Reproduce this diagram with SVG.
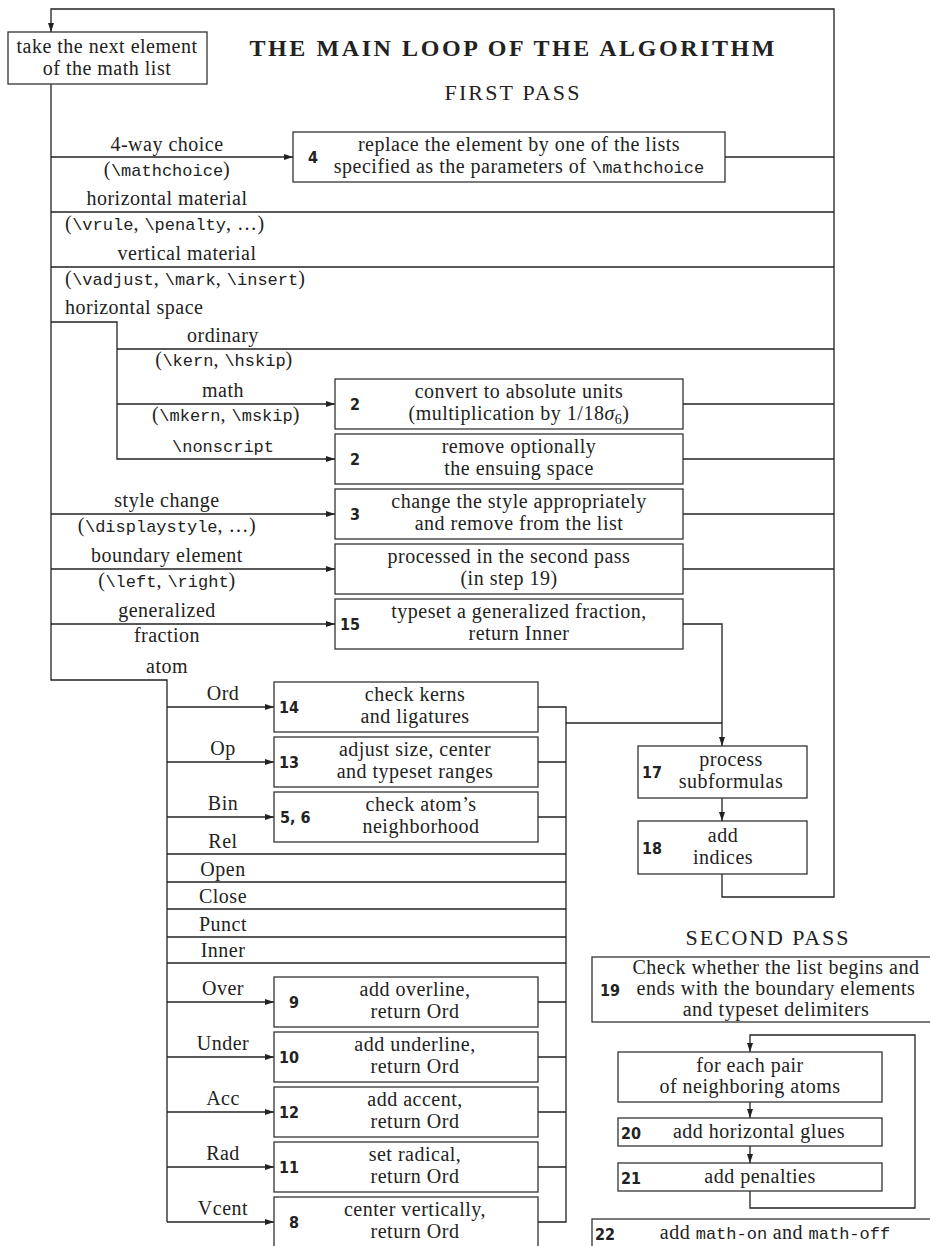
<svg xmlns="http://www.w3.org/2000/svg" width="930" height="1246" viewBox="0 0 930 1246">
<style>
  .bg{fill:#fff}
  .box{fill:#fff;stroke:#333;stroke-width:1.3}
  .ln{fill:none;stroke:#222;stroke-width:1.3}
  .t{font-family:"Liberation Serif","Times New Roman",serif;font-size:20px;fill:#222;letter-spacing:0.5px}
  .c{text-anchor:middle}
  .tt{font-family:"Liberation Mono","Courier New",monospace;font-size:17px;letter-spacing:0}
  .n{font-family:"DejaVu Sans Condensed","DejaVu Sans",sans-serif;font-stretch:condensed;font-weight:bold;font-size:16px;fill:#222}
  .e{text-anchor:end}
  .h1{font-family:"Liberation Serif","Times New Roman",serif;font-weight:bold;font-size:24px;fill:#222;text-anchor:middle}
  .h2{font-family:"Liberation Serif","Times New Roman",serif;font-size:22px;fill:#222;text-anchor:middle}
</style>
<defs>
  <marker id="arr" markerUnits="userSpaceOnUse" markerWidth="9" markerHeight="6" refX="9" refY="3" orient="auto">
    <path d="M0,0 L9,3 L0,6 z" fill="#222"/>
  </marker>
</defs>
<rect class="bg" x="0" y="0" width="930" height="1246"/>

<g id="headings">
  <text class="h1" x="512" y="56" textLength="525" lengthAdjust="spacing">THE MAIN LOOP OF THE ALGORITHM</text>
  <text class="h2" x="512" y="100" textLength="135" lengthAdjust="spacing">FIRST PASS</text>
  <text class="h2" x="767" y="945" textLength="163" lengthAdjust="spacing">SECOND PASS</text>
</g>

<g id="connectors">
  <path class="ln" d="M722,874 V897 H834 V9 H51 V32" marker-end="url(#arr)"/>
  <path class="ln" d="M51,84 V680 H167 V1222"/>
  <path class="ln" d="M51,157 H293" marker-end="url(#arr)"/>
  <path class="ln" d="M725,157 H834"/>
  <path class="ln" d="M51,212 H834"/>
  <path class="ln" d="M51,267 H834"/>
  <path class="ln" d="M51,322 H117 V459 H335" marker-end="url(#arr)"/>
  <path class="ln" d="M117,349 H834"/>
  <path class="ln" d="M117,404 H335" marker-end="url(#arr)"/>
  <path class="ln" d="M683,404 H834"/>
  <path class="ln" d="M683,459 H834"/>
  <path class="ln" d="M51,514 H335" marker-end="url(#arr)"/>
  <path class="ln" d="M683,514 H834"/>
  <path class="ln" d="M51,569 H335" marker-end="url(#arr)"/>
  <path class="ln" d="M683,569 H834"/>
  <path class="ln" d="M51,624 H335" marker-end="url(#arr)"/>
  <path class="ln" d="M683,624 H722 V746" marker-end="url(#arr)"/>
  <path class="ln" d="M566,723 H722"/>
  <path class="ln" d="M722,798 V821" marker-end="url(#arr)"/>
  <path class="ln" d="M167,707 H274" marker-end="url(#arr)"/>
  <path class="ln" d="M167,762 H274" marker-end="url(#arr)"/>
  <path class="ln" d="M167,817 H274" marker-end="url(#arr)"/>
  <path class="ln" d="M167,1002 H274" marker-end="url(#arr)"/>
  <path class="ln" d="M167,1057 H274" marker-end="url(#arr)"/>
  <path class="ln" d="M167,1112 H274" marker-end="url(#arr)"/>
  <path class="ln" d="M167,1167 H274" marker-end="url(#arr)"/>
  <path class="ln" d="M167,1222 H274" marker-end="url(#arr)"/>
  <path class="ln" d="M167,854 H566 M167,882 H566 M167,909 H566 M167,937 H566 M167,963 H566"/>
  <path class="ln" d="M538,707 H566 V1222 H538 M538,762 H566 M538,817 H566 M538,1002 H566 M538,1057 H566 M538,1112 H566 M538,1167 H566"/>
  <path class="ln" d="M750,1191 V1208 H915 V1035 H750 V1052" marker-end="url(#arr)"/>
  <path class="ln" d="M750,1102 V1118" marker-end="url(#arr)"/>
  <path class="ln" d="M750,1146 V1163" marker-end="url(#arr)"/>
</g>

<g id="labels">
  <text class="t c" x="167" y="151">4-way choice</text>
  <text class="t c" x="167" y="176">(<tspan class="tt">\mathchoice</tspan>)</text>
  <text class="t c" x="167" y="205">horizontal material</text>
  <text class="t" x="65" y="230">(<tspan class="tt">\vrule</tspan>, <tspan class="tt">\penalty</tspan>, …)</text>
  <text class="t c" x="187" y="260">vertical material</text>
  <text class="t" x="65" y="285">(<tspan class="tt">\vadjust</tspan>, <tspan class="tt">\mark</tspan>, <tspan class="tt">\insert</tspan>)</text>
  <text class="t" x="65" y="314">horizontal space</text>
  <text class="t c" x="223" y="342">ordinary</text>
  <text class="t c" x="224" y="366">(<tspan class="tt">\kern</tspan>, <tspan class="tt">\hskip</tspan>)</text>
  <text class="t c" x="223" y="397">math</text>
  <text class="t c" x="226" y="421">(<tspan class="tt">\mkern</tspan>, <tspan class="tt">\mskip</tspan>)</text>
  <text class="t c" x="223" y="452"><tspan class="tt">\nonscript</tspan></text>
  <text class="t c" x="167" y="507">style change</text>
  <text class="t c" x="167" y="532">(<tspan class="tt">\displaystyle</tspan>, …)</text>
  <text class="t c" x="167" y="562">boundary element</text>
  <text class="t c" x="167" y="587">(<tspan class="tt">\left</tspan>, <tspan class="tt">\right</tspan>)</text>
  <text class="t c" x="167" y="617">generalized</text>
  <text class="t c" x="167" y="642">fraction</text>
  <text class="t c" x="167" y="673">atom</text>
  <text class="t c" x="223" y="700">Ord</text>
  <text class="t c" x="223" y="755">Op</text>
  <text class="t c" x="223" y="810">Bin</text>
  <text class="t c" x="223" y="848">Rel</text>
  <text class="t c" x="223" y="876">Open</text>
  <text class="t c" x="223" y="903">Close</text>
  <text class="t c" x="223" y="931">Punct</text>
  <text class="t c" x="223" y="957">Inner</text>
  <text class="t c" x="223" y="995">Over</text>
  <text class="t c" x="223" y="1050">Under</text>
  <text class="t c" x="223" y="1105">Acc</text>
  <text class="t c" x="223" y="1160">Rad</text>
  <text class="t c" x="223" y="1215">Vcent</text>
</g>

<g id="n-take">
  <rect class="box" x="8" y="32" width="199" height="52"/>
  <text class="t c" x="107" y="53">take the next element</text>
  <text class="t c" x="107" y="75">of the math list</text>
</g>

<g id="n4">
  <rect class="box" x="293" y="132" width="432" height="50"/>
  <text class="n e" x="318" y="163">4</text>
  <text class="t c" x="519" y="151">replace the element by one of the lists</text>
  <text class="t c" x="519" y="173">specified as the parameters of <tspan class="tt">\mathchoice</tspan></text>
</g>

<g id="n2a">
  <rect class="box" x="335" y="379" width="348" height="50"/>
  <text class="n e" x="360" y="410">2</text>
  <text class="t c" x="519" y="398">convert to absolute units</text>
  <text class="t c" x="519" y="420">(multiplication by 1/18<tspan font-style="italic">σ</tspan><tspan font-size="14" dy="4">6</tspan><tspan dy="-4">)</tspan></text>
</g>

<g id="n2b">
  <rect class="box" x="335" y="434" width="348" height="50"/>
  <text class="n e" x="360" y="465">2</text>
  <text class="t c" x="519" y="453">remove optionally</text>
  <text class="t c" x="519" y="475">the ensuing space</text>
</g>

<g id="n3">
  <rect class="box" x="335" y="489" width="348" height="50"/>
  <text class="n e" x="360" y="520">3</text>
  <text class="t c" x="519" y="508">change the style appropriately</text>
  <text class="t c" x="519" y="530">and remove from the list</text>
</g>

<g id="n-boundary">
  <rect class="box" x="335" y="544" width="348" height="50"/>
  <text class="t c" x="509" y="563">processed in the second pass</text>
  <text class="t c" x="509" y="585">(in step 19)</text>
</g>

<g id="n15">
  <rect class="box" x="335" y="599" width="348" height="50"/>
  <text class="n e" x="360" y="630">15</text>
  <text class="t c" x="519" y="618">typeset a generalized fraction,</text>
  <text class="t c" x="519" y="640">return Inner</text>
</g>

<g id="n14">
  <rect class="box" x="274" y="682" width="264" height="50"/>
  <text class="n e" x="299" y="713">14</text>
  <text class="t c" x="415" y="701">check kerns</text>
  <text class="t c" x="415" y="723">and ligatures</text>
</g>

<g id="n13">
  <rect class="box" x="274" y="737" width="264" height="50"/>
  <text class="n e" x="299" y="768">13</text>
  <text class="t c" x="415" y="756">adjust size, center</text>
  <text class="t c" x="415" y="778">and typeset ranges</text>
</g>

<g id="n56">
  <rect class="box" x="274" y="792" width="264" height="50"/>
  <text class="n" x="280" y="823">5, 6</text>
  <text class="t c" x="421" y="811">check atom’s</text>
  <text class="t c" x="421" y="833">neighborhood</text>
</g>

<g id="n9">
  <rect class="box" x="274" y="977" width="264" height="50"/>
  <text class="n e" x="299" y="1008">9</text>
  <text class="t c" x="415" y="996">add overline,</text>
  <text class="t c" x="415" y="1018">return Ord</text>
</g>

<g id="n10">
  <rect class="box" x="274" y="1032" width="264" height="50"/>
  <text class="n e" x="299" y="1063">10</text>
  <text class="t c" x="415" y="1051">add underline,</text>
  <text class="t c" x="415" y="1073">return Ord</text>
</g>

<g id="n12">
  <rect class="box" x="274" y="1087" width="264" height="50"/>
  <text class="n e" x="299" y="1118">12</text>
  <text class="t c" x="415" y="1106">add accent,</text>
  <text class="t c" x="415" y="1128">return Ord</text>
</g>

<g id="n11">
  <rect class="box" x="274" y="1142" width="264" height="50"/>
  <text class="n e" x="299" y="1173">11</text>
  <text class="t c" x="415" y="1161">set radical,</text>
  <text class="t c" x="415" y="1183">return Ord</text>
</g>

<g id="n8">
  <rect class="box" x="274" y="1197" width="264" height="52"/>
  <text class="n e" x="299" y="1228">8</text>
  <text class="t c" x="415" y="1216">center vertically,</text>
  <text class="t c" x="415" y="1238">return Ord</text>
</g>

<g id="n17">
  <rect class="box" x="638" y="746" width="169" height="52"/>
  <text class="n e" x="662" y="778">17</text>
  <text class="t c" x="731" y="766">process</text>
  <text class="t c" x="731" y="788">subformulas</text>
</g>

<g id="n18">
  <rect class="box" x="638" y="821" width="169" height="53"/>
  <text class="n e" x="662" y="854">18</text>
  <text class="t c" x="723" y="842">add</text>
  <text class="t c" x="723" y="864">indices</text>
</g>

<g id="n19">
  <rect class="box" x="592" y="957" width="345" height="65"/>
  <text class="n" x="600" y="996">19</text>
  <text class="t c" x="776" y="974">Check whether the list begins and</text>
  <text class="t c" x="776" y="995">ends with the boundary elements</text>
  <text class="t c" x="776" y="1016">and typeset delimiters</text>
</g>

<g id="n-pair">
  <rect class="box" x="618" y="1052" width="264" height="50"/>
  <text class="t c" x="750" y="1072">for each pair</text>
  <text class="t c" x="750" y="1093">of neighboring atoms</text>
</g>

<g id="n20">
  <rect class="box" x="618" y="1118" width="264" height="28"/>
  <text class="n" x="621" y="1139">20</text>
  <text class="t c" x="759" y="1138">add horizontal glues</text>
</g>

<g id="n21">
  <rect class="box" x="618" y="1163" width="264" height="28"/>
  <text class="n" x="621" y="1184">21</text>
  <text class="t c" x="760" y="1183">add penalties</text>
</g>

<g id="n22">
  <rect class="box" x="592" y="1219" width="345" height="40"/>
  <text class="n" x="595" y="1240">22</text>
  <text class="t c" x="775" y="1239">add <tspan class="tt">math-on</tspan> and <tspan class="tt">math-off</tspan></text>
</g>
</svg>
